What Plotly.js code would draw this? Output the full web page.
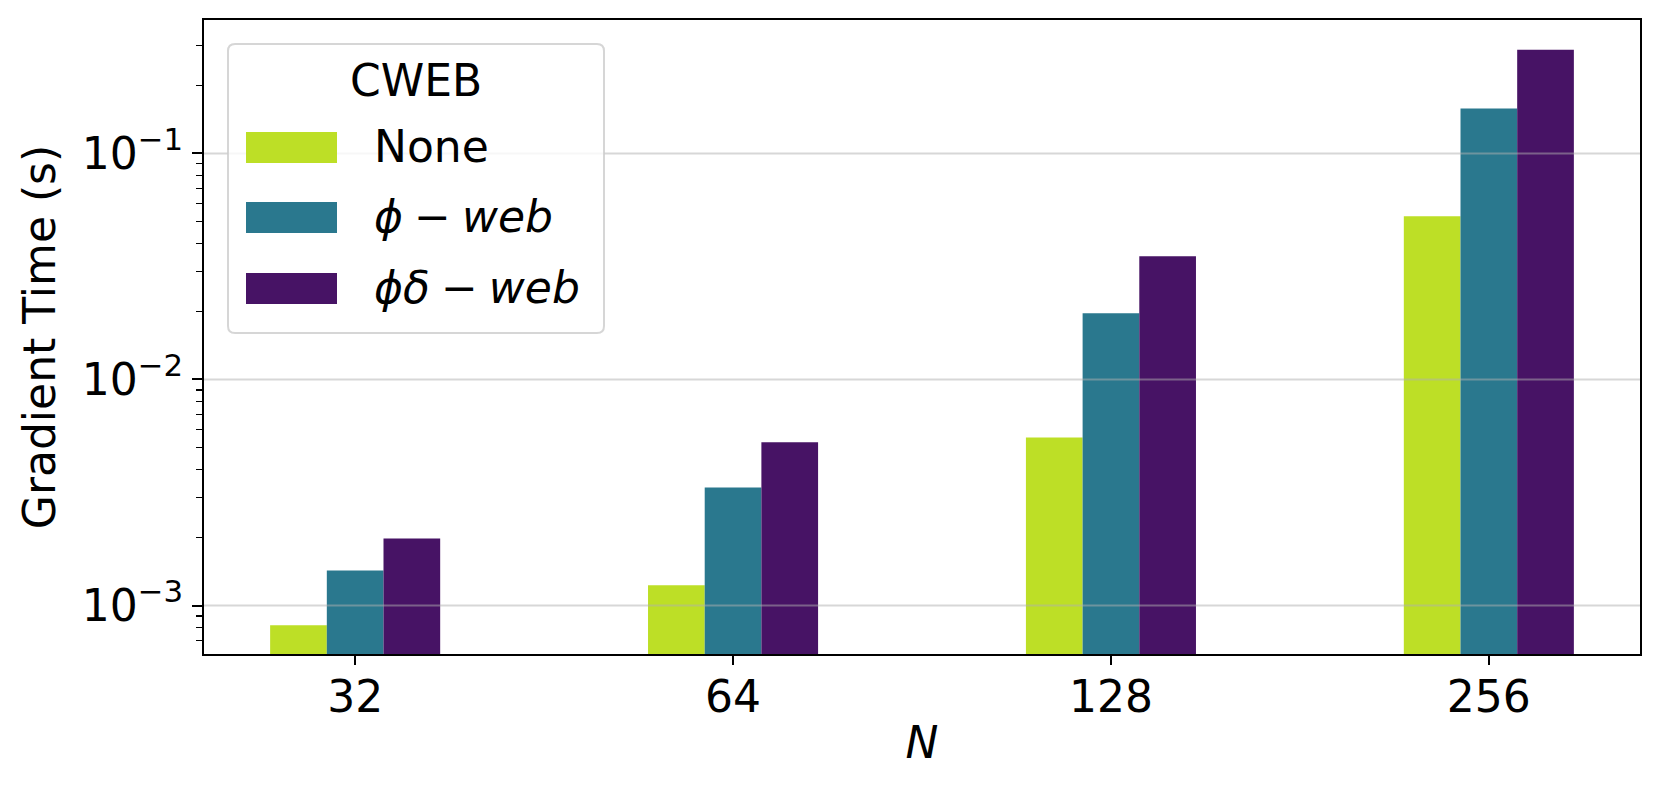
<!DOCTYPE html>
<html>
<head>
<meta charset="utf-8">
<script src="https://cdn.plot.ly/plotly-3.0.1.min.js"></script>
<style>html,body{margin:0;padding:0;background:#fff;}</style>
</head>
<body>
<div id="chart" style="width:1661px;height:795px;"></div>
<script>
// ---- data ----
const categories = ['32', '64', '128', '256'];
const seriesNames = ['None', 'ϕ − web', 'ϕδ − web'];
const legendLabels = ['None', '<i>ϕ</i>\u2005−\u2005<i>web</i>', '<i>ϕδ</i>\u2005−\u2005<i>web</i>'];
const noneValues = [0.000818, 0.00123, 0.00554, 0.0527];
const phiWebValues = [0.00143, 0.00333, 0.0196, 0.158];
const phiDeltaWebValues = [0.00198, 0.00527, 0.0351, 0.287];
const seriesValues = [noneValues, phiWebValues, phiDeltaWebValues];
const colors = ['#bddf26', '#2a788e', '#471365'];
const majorTicks = [0.001, 0.01, 0.1];
const majorTickText = ['10<sup>−3</sup>', '10<sup>−2</sup>', '10<sup>−1</sup>'];
const minorTicks = [0.0007, 0.0008, 0.0009,
  0.002, 0.003, 0.004, 0.005, 0.006, 0.007, 0.008, 0.009,
  0.02, 0.03, 0.04, 0.05, 0.06, 0.07, 0.08, 0.09,
  0.2, 0.3];
const legendTitle = 'CWEB';

// ---- geometry ----
const W = 1661, H = 795;
const M = {l: 204, r: 21, t: 20, b: 141};
const PW = W - M.l - M.r, PH = H - M.t - M.b;
const px = x => (x - M.l) / PW;
const py = y => (H - M.b - y) / PH;
const FONT = 'DejaVu Sans, Verdana, sans-serif';

const traces = seriesValues.map((vals, i) => ({
  type: 'bar',
  name: seriesNames[i],
  x: categories,
  y: vals,
  marker: {color: colors[i], line: {width: 0}},
  showlegend: false,
  hoverinfo: 'x+y+name'
}));

const shapes = [];
// gridlines drawn above the bars (semi-transparent) like the reference
majorTicks.forEach(v => shapes.push({
  type: 'line', xref: 'paper', x0: 0, x1: 1, yref: 'y', y0: v, y1: v,
  line: {color: 'rgba(176,176,176,0.5)', width: 2}, layer: 'above'
}));

// legend frame with rounded corners
const lx0 = 228, lx1 = 604, ly0 = 44, ly1 = 333, rr = 7;
function rp(x, y) { return px(x) + ',' + py(y); }
const framePath = 'M' + rp(lx0 + rr, ly0) + ' L' + rp(lx1 - rr, ly0) +
  ' Q' + rp(lx1, ly0) + ' ' + rp(lx1, ly0 + rr) +
  ' L' + rp(lx1, ly1 - rr) + ' Q' + rp(lx1, ly1) + ' ' + rp(lx1 - rr, ly1) +
  ' L' + rp(lx0 + rr, ly1) + ' Q' + rp(lx0, ly1) + ' ' + rp(lx0, ly1 - rr) +
  ' L' + rp(lx0, ly0 + rr) + ' Q' + rp(lx0, ly0) + ' ' + rp(lx0 + rr, ly0) + ' Z';
shapes.push({type: 'path', xref: 'paper', yref: 'paper', path: framePath,
  fillcolor: 'rgba(255,255,255,0.8)', line: {color: 'rgba(204,204,204,0.8)', width: 2}, layer: 'above'});

const rowTops = [132, 202, 273];
const swH = 31;
const annotations = [{
  xref: 'paper', yref: 'paper', x: px((lx0 + lx1) / 2), y: py(81),
  xanchor: 'center', yanchor: 'middle', text: legendTitle, showarrow: false,
  font: {family: FONT, size: 44, color: '#000'}
}];
rowTops.forEach((t, i) => {
  shapes.push({type: 'rect', xref: 'paper', yref: 'paper',
    x0: px(246), x1: px(337), y0: py(t + swH), y1: py(t),
    fillcolor: colors[i], line: {width: 0}, layer: 'above'});
  annotations.push({xref: 'paper', yref: 'paper', x: px(372), y: py(t + swH / 2 - 1),
    xanchor: 'left', yanchor: 'middle', text: legendLabels[i], showarrow: false,
    font: {family: FONT, size: 44, color: '#000'}});
});

const layout = {
  width: W, height: H,
  margin: M,
  paper_bgcolor: '#fff', plot_bgcolor: '#fff',
  font: {family: FONT, size: 44, color: '#000'},
  barmode: 'group', bargap: 0.55, bargroupgap: 0,
  xaxis: {
    type: 'category', categoryorder: 'array', categoryarray: categories,
    range: [-0.4, 3.4],
    showline: true, linecolor: '#000', linewidth: 2, mirror: true,
    ticks: 'outside', ticklen: 9, tickwidth: 2, tickcolor: '#000',
    ticklabelstandoff: -6,
    tickfont: {family: FONT, size: 44, color: '#000'},
    showgrid: false, zeroline: false,
    title: {text: '<i>N</i>', font: {family: FONT, size: 44, color: '#000'}, standoff: 6}
  },
  yaxis: {
    type: 'log', range: [-3.2145, -0.410],
    tickmode: 'array', tickvals: majorTicks, ticktext: majorTickText,
    showline: true, linecolor: '#000', linewidth: 2, mirror: true,
    ticks: 'outside', ticklen: 10, tickwidth: 2, tickcolor: '#000',
    tickfont: {family: FONT, size: 44, color: '#000'},
    showgrid: false, zeroline: false,
    minor: {tickmode: 'array', tickvals: minorTicks, ticks: 'outside', ticklen: 6,
      tickwidth: 1.5, tickcolor: '#000', showgrid: false},
    title: {text: 'Gradient Time (s)', font: {family: FONT, size: 44, color: '#000'}, standoff: 12}
  },
  shapes: shapes,
  annotations: annotations,
  showlegend: false
};

Plotly.newPlot('chart', traces, layout, {displayModeBar: false, staticPlot: true});
</script>
</body>
</html>
